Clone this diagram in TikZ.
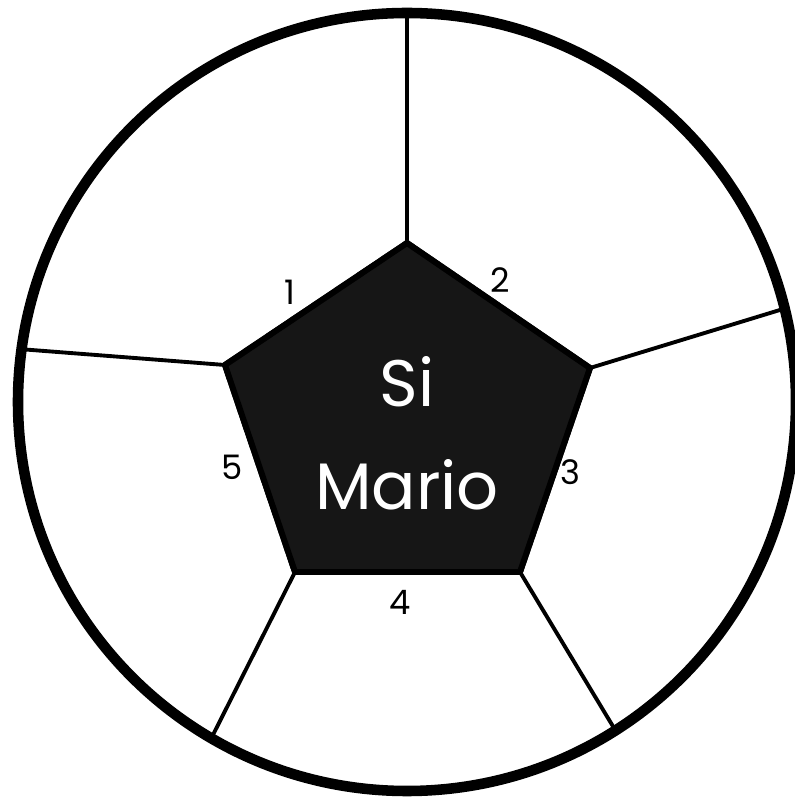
\documentclass[tikz,border=0pt]{standalone}
\usepackage{fontspec}
\setmainfont{Poppins}
\usepackage{tikz}
\usetikzlibrary{calc}
\definecolor{pentdark}{RGB}{22,22,22}
\definecolor{rimblack}{RGB}{0,0,0}

\begin{document}
\begin{tikzpicture}[x=1cm,y=1cm,
    rim/.style={rimblack,line width=3pt},
    spoke/.style={rimblack,line width=1.1pt},
    sidenum/.style={font=\fontsize{9.6}{11}\selectfont,text=black,inner sep=0pt}]
    \useasboundingbox (-4.07,-4.01) rectangle (3.88,4.02);
    \node[circle,minimum size=0pt,inner sep=0pt] (hub) at (0,0) {};
    % corners of the pentagon
    \coordinate (p1) at (0,1.59);
    \coordinate (p2) at (1.83,0.34);
    \coordinate (p3) at (1.13,-1.70);
    \coordinate (p4) at (-1.12,-1.70);
    \coordinate (p5) at (-1.82,0.37);
    % where the spokes meet the rim
    \foreach \n/\a in {1/90, 2/13.9, 3/302.4, 4/239.8, 5/172.2}
      \coordinate (r\n) at (\a:3.89);
    \draw[rim] (hub) circle (3.89);
    \foreach \n in {1,...,5}
      \draw[spoke] (p\n) -- (r\n);
    \draw[pentdark,fill=pentdark,line width=1.7pt,line join=round]
      (p1) -- (p2) -- (p3) -- (p4) -- (p5) -- cycle;
    \draw[black,line width=1.7pt,line join=round]
      (p1) -- (p2) -- (p3) -- (p4) -- (p5) -- cycle;
    \node[text=white,align=center,inner sep=0pt,
      font=\fontsize{18.7}{29.3}\selectfont] (name) at (0,-0.31) {Si\\Mario};
    \foreach \k/\x/\y in {1/-1.17/1.10, 2/0.93/1.22, 3/1.63/-0.70, 4/-0.07/-2.00, 5/-1.75/-0.65}
      \node[sidenum] (num\k) at (\x,\y) {\k};
  \end{tikzpicture}
\end{document}
